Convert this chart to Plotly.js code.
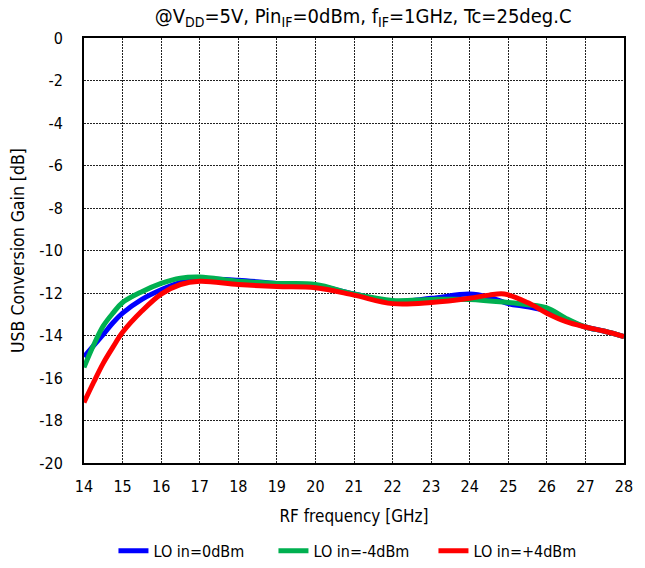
<!DOCTYPE html>
<html>
<head>
<meta charset="utf-8">
<script src="https://cdn.plot.ly/plotly-3.0.1.min.js"></script>
<style>html,body{margin:0;padding:0;background:#fff;}#chart{width:645px;height:568px;}</style>
</head>
<body>
<div id="chart"></div>
<script>
const freqBlue = [14, 14.5, 14.75, 15, 15.5, 16, 16.5, 17, 18, 19, 20, 21, 22, 23, 24, 24.5, 25, 25.5, 26, 26.5, 27, 27.5, 28];
const gainBlue = [-15.0, -13.95, -13.4, -12.95, -12.3, -11.85, -11.5, -11.35, -11.4, -11.55, -11.65, -12.05, -12.4, -12.25, -12.05, -12.2, -12.5, -12.65, -12.85, -13.25, -13.6, -13.8, -14.05];
const freqGreen = [14, 14.25, 14.5, 14.75, 15, 15.5, 16, 16.5, 17, 18, 19, 20, 21, 22, 23, 24, 25, 25.5, 26, 26.5, 27, 27.5, 28];
const gainGreen = [-15.5, -14.45, -13.55, -12.95, -12.45, -11.94, -11.55, -11.3, -11.25, -11.45, -11.55, -11.6, -12.05, -12.35, -12.3, -12.3, -12.45, -12.55, -12.7, -13.2, -13.6, -13.8, -14.05];
const freqRed = [14, 14.25, 14.5, 14.75, 15, 15.5, 16, 16.5, 17, 18, 19, 20, 21, 22, 23, 24, 24.5, 24.9, 25.5, 26, 26.5, 27, 27.5, 28];
const gainRed = [-17.15, -16.2, -15.3, -14.55, -13.85, -12.85, -12.05, -11.6, -11.45, -11.6, -11.7, -11.75, -12.1, -12.5, -12.45, -12.25, -12.1, -12.05, -12.45, -12.95, -13.35, -13.6, -13.8, -14.05];
const seriesNames = ['LO in=0dBm', 'LO in=-4dBm', 'LO in=+4dBm'];
const xTicks = [14,15,16,17,18,19,20,21,22,23,24,25,26,27,28];
const yTicks = [0,-2,-4,-6,-8,-10,-12,-14,-16,-18,-20];

const font = '"DejaVu Sans Condensed", Tahoma, "DejaVu Sans", sans-serif';
const mk = (x, y, name, color) => ({
  x, y, name, type: 'scatter', mode: 'lines',
  line: {color, width: 5, shape: 'spline', smoothing: 1}
});
const data = [
  mk(freqBlue, gainBlue, seriesNames[0], '#0000FF'),
  mk(freqGreen, gainGreen, seriesNames[1], '#00B050'),
  mk(freqRed, gainRed, seriesNames[2], '#FF0000')
];
const axisCommon = {
  showline: true, linecolor: '#000', linewidth: 2, mirror: true,
  showgrid: true, gridcolor: '#222', griddash: '2px,1px', gridwidth: 1,
  zeroline: false, ticks: '', automargin: false,
  tickfont: {family: font, size: 16, color: '#000'}
};
const layout = {
  width: 645, height: 568,
  margin: {l: 84, r: 21, t: 38, b: 105},
  paper_bgcolor: '#fff', plot_bgcolor: '#fff',
  font: {family: font, color: '#000'},
  title: {text: '@V<sub>DD</sub>=5V, Pin<sub>IF</sub>=0dBm, f<sub>IF</sub>=1GHz, Tc=25deg.C',
    font: {family: font, size: 20, color: '#000'}, x: 0.563, xanchor: 'center', y: 0.972, yanchor: 'middle'},
  xaxis: Object.assign({}, axisCommon, {range: [14, 28], tickvals: xTicks, ticktext: xTicks.map(String),
    ticklabelstandoff: 8,
    title: {text: 'RF frequency [GHz]', font: {family: font, size: 17}, standoff: 15}}),
  yaxis: Object.assign({}, axisCommon, {range: [-20, 0], tickvals: yTicks, ticktext: yTicks.map(String),
    ticklabelstandoff: 16,
    title: {text: 'USB Conversion Gain [dB]', font: {family: font, size: 17.5}, standoff: 10}}),
  showlegend: true,
  legend: {orientation: 'h', x: 0.548, xanchor: 'center', xref: 'container', y: 0.03, yref: 'container', yanchor: 'middle',
    font: {family: font, size: 16, color: '#000'}, itemwidth: 30, tracegroupgap: 0,
    entrywidth: 115, entrywidthmode: 'pixels'}
};
Plotly.newPlot('chart', data, layout, {displayModeBar: false, staticPlot: true});
</script>
</body>
</html>
